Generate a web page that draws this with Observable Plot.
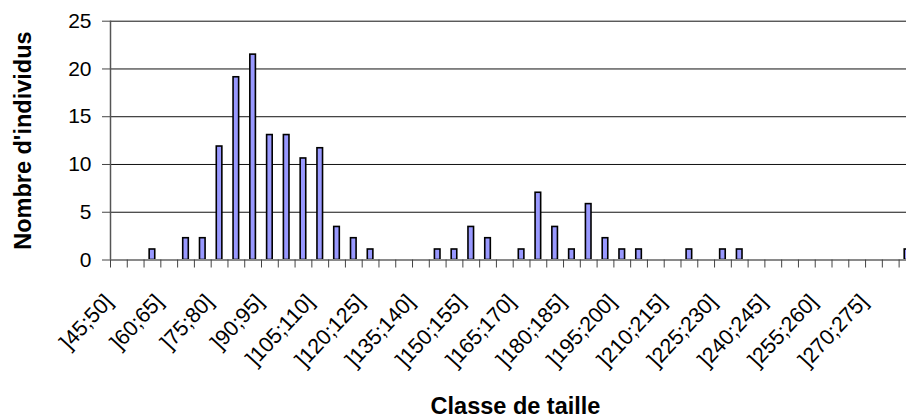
<!DOCTYPE html>
<html><head><meta charset="utf-8">
<script src="https://cdn.jsdelivr.net/npm/d3@7"></script>
<script src="https://cdn.jsdelivr.net/npm/@observablehq/plot@0.6"></script>
<style>html,body{margin:0;padding:0;background:#fff;overflow:hidden;}</style>
</head><body><div id="chart"></div>
<script>
const categories = [
  "]45;50]","]50;55]","]55;60]","]60;65]","]65;70]","]70;75]","]75;80]","]80;85]",
  "]85;90]","]90;95]","]95;100]","]100;105]","]105;110]","]110;115]","]115;120]","]120;125]",
  "]125;130]","]130;135]","]135;140]","]140;145]","]145;150]","]150;155]","]155;160]","]160;165]",
  "]165;170]","]170;175]","]175;180]","]180;185]","]185;190]","]190;195]","]195;200]","]200;205]",
  "]205;210]","]210;215]","]215;220]","]220;225]","]225;230]","]230;235]","]235;240]","]240;245]",
  "]245;250]","]250;255]","]255;260]","]260;265]","]265;270]","]270;275]","]275;280]","]280;285]"
];
const values = [
  0, 0, 1.1, 0, 2.28, 2.28, 11.88, 19.13,
  21.5, 13.08, 13.08, 10.63, 11.7, 3.46, 2.28, 1.1,
  0, 0, 0, 1.1, 1.1, 3.46, 2.28, 0,
  1.1, 7.04, 3.46, 1.1, 5.85, 2.28, 1.1, 1.1,
  0, 0, 1.1, 0, 1.1, 1.1, 0, 0,
  0, 0, 0, 0, 0, 0, 0, 1.1
];
const tickLabels = [
  "]45;50]","]60;65]","]75;80]","]90;95]","]105;110]","]120;125]","]135;140]","]150;155]",
  "]165;170]","]180;185]","]195;200]","]210;215]","]225;230]","]240;245]","]255;260]","]270;275]"
];
const yTicks = [0, 5, 10, 15, 20, 25];
const xTitle = "Classe de taille";
const yTitle = "Nombre d'individus";

const data = categories.map((c, i) => ({cat: c, value: values[i]}));
const x0 = 110, x1 = 915.4;
const bw = (x1 - x0) / categories.length;

const chart = Plot.plot({
  width: 906,
  height: 418,
  marginLeft: 110,
  marginRight: 0,
  marginTop: 20.7,
  marginBottom: 158.5,
  style: {fontFamily: "'Liberation Sans', Arial, sans-serif", fontSize: "21px", color: "#000", background: "#fff"},
  x: {type: "band", domain: categories, range: [x0, x1], padding: 0, axis: null},
  y: {domain: [0, 25], range: [259.5, 20.7], axis: null},
  marks: [
    Plot.ruleY(yTicks.filter(d => d > 0), {stroke: "#111", strokeWidth: 1}),
    Plot.barY(data.filter(d => d.value > 0), {
      x: "cat", y: "value", fill: "#9999ff", stroke: "#000", strokeWidth: 1.6,
      insetLeft: 5.6, insetRight: 5.6
    }),
    Plot.ruleY([0], {stroke: "#8a8a8a", strokeWidth: 2.2}),
    Plot.ruleX([categories[0]], {y1: 0, y2: 25, dx: -bw / 2, stroke: "#555", strokeWidth: 1.5}),
    Plot.axisY({ticks: yTicks, tickSize: 8, tickPadding: 11, fontSize: 21, stroke: "#444", fill: "#000", tickFormat: d => String(d), label: null}),
    Plot.axisX({ticks: categories, tickSize: 8, tickFormat: () => "", dx: -bw / 2, stroke: "#444", label: null}),
    Plot.text(tickLabels, {
      x: d => d, frameAnchor: "bottom", textAnchor: "end", lineAnchor: "middle",
      rotate: -47, dx: -10, dy: 38, fontSize: 21.5, fill: "#000"
    }),
    Plot.text([yTitle], {frameAnchor: "left", textAnchor: "middle", lineAnchor: "middle", rotate: -90, dx: -87.5, fontWeight: "bold", fontSize: 23.5, fill: "#000"}),
    Plot.text([xTitle], {frameAnchor: "bottom", textAnchor: "middle", lineAnchor: "middle", dy: 146.5, dx: 7, fontWeight: "bold", fontSize: 23.5, fill: "#000"})
  ]
});
document.getElementById("chart").appendChild(chart);
</script>
</body></html>
